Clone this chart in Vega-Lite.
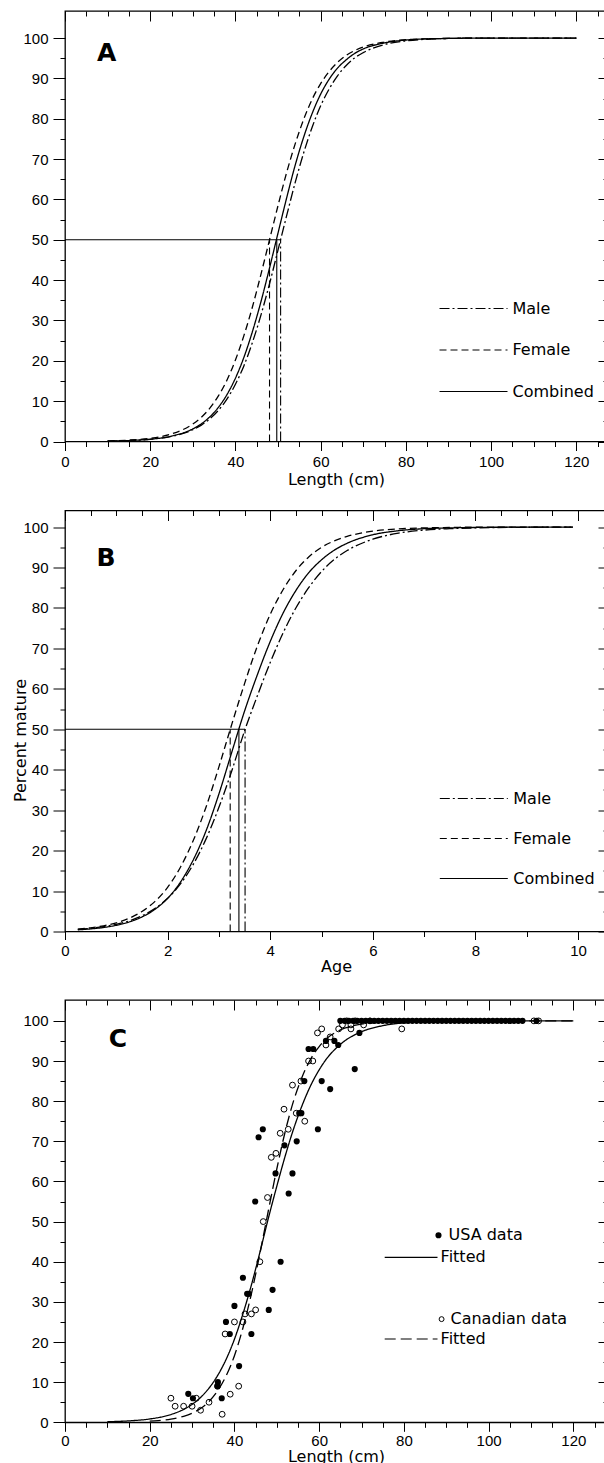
{
  "$schema": "https://vega.github.io/schema/vega-lite/v6.json",
  "background": "white",
  "padding": {"top": 9, "left": 11, "right": 0, "bottom": 0},
  "bounds": "flush",
  "spacing": 68.5,
  "resolve": {"scale": {"strokeDash": "independent"}, "legend": {"strokeDash": "independent"}},
  "config": {
    "view": {"stroke": "black", "strokeWidth": 1.3},
    "axis": {
      "domain": false,
      "grid": false,
      "tickColor": "black",
      "tickWidth": 1,
      "labelColor": "black",
      "labelFont": "Liberation Sans",
      "labelFontSize": 15,
      "labelFlush": false,
      "labelOverlap": false,
      "titleColor": "black",
      "titleFont": "DejaVu Sans",
      "titleFontSize": 16,
      "titleFontWeight": "normal"
    },
    "legend": {
      "orient": "none",
      "title": null,
      "padding": 0,
      "symbolType": "stroke",
      "symbolStrokeColor": "black",
      "symbolStrokeWidth": 1.2,
      "labelFont": "DejaVu Sans",
      "labelFontSize": 16,
      "labelColor": "black"
    },
    "text": {"font": "DejaVu Sans", "fontSize": 16, "color": "black"}
  },
  "datasets": {
    "lengthCurves": [
      {"sex": "Combined", "length": 10, "pct": 0.1}, {"sex": "Combined", "length": 15, "pct": 0.23}, {"sex": "Combined", "length": 20, "pct": 0.56}, {"sex": "Combined", "length": 25, "pct": 1.33},
      {"sex": "Combined", "length": 30, "pct": 3.13}, {"sex": "Combined", "length": 32, "pct": 4.39}, {"sex": "Combined", "length": 34, "pct": 6.12}, {"sex": "Combined", "length": 36, "pct": 8.47},
      {"sex": "Combined", "length": 38, "pct": 11.6}, {"sex": "Combined", "length": 40, "pct": 15.7}, {"sex": "Combined", "length": 42, "pct": 20.9}, {"sex": "Combined", "length": 44, "pct": 27.3},
      {"sex": "Combined", "length": 46, "pct": 34.7}, {"sex": "Combined", "length": 48, "pct": 43.0}, {"sex": "Combined", "length": 50, "pct": 51.7}, {"sex": "Combined", "length": 52, "pct": 60.3},
      {"sex": "Combined", "length": 54, "pct": 68.4}, {"sex": "Combined", "length": 56, "pct": 75.4}, {"sex": "Combined", "length": 58, "pct": 81.3}, {"sex": "Combined", "length": 60, "pct": 86.1},
      {"sex": "Combined", "length": 62, "pct": 89.8}, {"sex": "Combined", "length": 64, "pct": 92.6}, {"sex": "Combined", "length": 66, "pct": 94.6}, {"sex": "Combined", "length": 68, "pct": 96.2},
      {"sex": "Combined", "length": 70, "pct": 97.3}, {"sex": "Combined", "length": 75, "pct": 98.8}, {"sex": "Combined", "length": 80, "pct": 99.5}, {"sex": "Combined", "length": 85, "pct": 99.8},
      {"sex": "Combined", "length": 90, "pct": 99.9}, {"sex": "Combined", "length": 100, "pct": 100}, {"sex": "Combined", "length": 110, "pct": 100}, {"sex": "Combined", "length": 120, "pct": 100},
      {"sex": "Female", "length": 10, "pct": 0.15}, {"sex": "Female", "length": 15, "pct": 0.34}, {"sex": "Female", "length": 20, "pct": 0.8}, {"sex": "Female", "length": 25, "pct": 1.88},
      {"sex": "Female", "length": 30, "pct": 4.33}, {"sex": "Female", "length": 32, "pct": 6.0}, {"sex": "Female", "length": 34, "pct": 8.26}, {"sex": "Female", "length": 36, "pct": 11.3},
      {"sex": "Female", "length": 38, "pct": 15.2}, {"sex": "Female", "length": 40, "pct": 20.2}, {"sex": "Female", "length": 42, "pct": 26.3}, {"sex": "Female", "length": 44, "pct": 33.4},
      {"sex": "Female", "length": 46, "pct": 41.5}, {"sex": "Female", "length": 48, "pct": 50.0}, {"sex": "Female", "length": 50, "pct": 58.5}, {"sex": "Female", "length": 52, "pct": 66.6},
      {"sex": "Female", "length": 54, "pct": 73.7}, {"sex": "Female", "length": 56, "pct": 79.8}, {"sex": "Female", "length": 58, "pct": 84.8}, {"sex": "Female", "length": 60, "pct": 88.7},
      {"sex": "Female", "length": 62, "pct": 91.7}, {"sex": "Female", "length": 64, "pct": 94.0}, {"sex": "Female", "length": 66, "pct": 95.7}, {"sex": "Female", "length": 68, "pct": 96.9},
      {"sex": "Female", "length": 70, "pct": 97.8}, {"sex": "Female", "length": 75, "pct": 99.0}, {"sex": "Female", "length": 80, "pct": 99.6}, {"sex": "Female", "length": 85, "pct": 99.8},
      {"sex": "Female", "length": 90, "pct": 99.9}, {"sex": "Female", "length": 100, "pct": 100}, {"sex": "Female", "length": 110, "pct": 100}, {"sex": "Female", "length": 120, "pct": 100},
      {"sex": "Male", "length": 10, "pct": 0.1}, {"sex": "Male", "length": 15, "pct": 0.24}, {"sex": "Male", "length": 20, "pct": 0.55}, {"sex": "Male", "length": 25, "pct": 1.27},
      {"sex": "Male", "length": 30, "pct": 2.92}, {"sex": "Male", "length": 32, "pct": 4.06}, {"sex": "Male", "length": 34, "pct": 5.62}, {"sex": "Male", "length": 36, "pct": 7.71},
      {"sex": "Male", "length": 38, "pct": 10.5}, {"sex": "Male", "length": 40, "pct": 14.2}, {"sex": "Male", "length": 42, "pct": 18.8}, {"sex": "Male", "length": 44, "pct": 24.6},
      {"sex": "Male", "length": 46, "pct": 31.4}, {"sex": "Male", "length": 48, "pct": 39.1}, {"sex": "Male", "length": 50, "pct": 47.5}, {"sex": "Male", "length": 52, "pct": 55.9},
      {"sex": "Male", "length": 54, "pct": 64.1}, {"sex": "Male", "length": 56, "pct": 71.5}, {"sex": "Male", "length": 58, "pct": 77.9}, {"sex": "Male", "length": 60, "pct": 83.2},
      {"sex": "Male", "length": 62, "pct": 87.4}, {"sex": "Male", "length": 64, "pct": 90.7}, {"sex": "Male", "length": 66, "pct": 93.2}, {"sex": "Male", "length": 68, "pct": 95.1},
      {"sex": "Male", "length": 70, "pct": 96.4}, {"sex": "Male", "length": 75, "pct": 98.4}, {"sex": "Male", "length": 80, "pct": 99.3}, {"sex": "Male", "length": 85, "pct": 99.7},
      {"sex": "Male", "length": 90, "pct": 99.9}, {"sex": "Male", "length": 100, "pct": 100}, {"sex": "Male", "length": 110, "pct": 100}, {"sex": "Male", "length": 120, "pct": 100}
    ],
    "lengthDrops": [
      {"sex": "Combined", "seg": "h", "length": 0, "pct": 50}, {"sex": "Combined", "seg": "h", "length": 50.6, "pct": 50},
      {"sex": "Female", "seg": "f", "length": 48.0, "pct": 0}, {"sex": "Female", "seg": "f", "length": 48.0, "pct": 50},
      {"sex": "Combined", "seg": "c", "length": 49.7, "pct": 0}, {"sex": "Combined", "seg": "c", "length": 49.7, "pct": 50},
      {"sex": "Male", "seg": "m", "length": 50.6, "pct": 0}, {"sex": "Male", "seg": "m", "length": 50.6, "pct": 50}
    ],
    "ageCurves": [
      {"sex": "Combined", "age": 0.25, "pct": 0.42}, {"sex": "Combined", "age": 0.5, "pct": 0.64}, {"sex": "Combined", "age": 0.75, "pct": 0.99}, {"sex": "Combined", "age": 1, "pct": 1.53},
      {"sex": "Combined", "age": 1.25, "pct": 2.35}, {"sex": "Combined", "age": 1.5, "pct": 3.59}, {"sex": "Combined", "age": 1.75, "pct": 5.46}, {"sex": "Combined", "age": 2, "pct": 8.2},
      {"sex": "Combined", "age": 2.25, "pct": 12.2}, {"sex": "Combined", "age": 2.5, "pct": 17.7}, {"sex": "Combined", "age": 2.75, "pct": 24.9}, {"sex": "Combined", "age": 3, "pct": 34.0},
      {"sex": "Combined", "age": 3.25, "pct": 44.3}, {"sex": "Combined", "age": 3.5, "pct": 54.5}, {"sex": "Combined", "age": 3.75, "pct": 63.5}, {"sex": "Combined", "age": 4, "pct": 71.7},
      {"sex": "Combined", "age": 4.25, "pct": 78.7}, {"sex": "Combined", "age": 4.5, "pct": 84.3}, {"sex": "Combined", "age": 4.75, "pct": 88.7}, {"sex": "Combined", "age": 5, "pct": 91.9},
      {"sex": "Combined", "age": 5.25, "pct": 94.3}, {"sex": "Combined", "age": 5.5, "pct": 96.0}, {"sex": "Combined", "age": 6, "pct": 98.1}, {"sex": "Combined", "age": 6.5, "pct": 99.1},
      {"sex": "Combined", "age": 7, "pct": 99.6}, {"sex": "Combined", "age": 7.5, "pct": 99.8}, {"sex": "Combined", "age": 8, "pct": 99.9}, {"sex": "Combined", "age": 9, "pct": 100}, {"sex": "Combined", "age": 9.9, "pct": 100},
      {"sex": "Female", "age": 0.25, "pct": 0.6}, {"sex": "Female", "age": 0.5, "pct": 0.92}, {"sex": "Female", "age": 0.75, "pct": 1.41}, {"sex": "Female", "age": 1, "pct": 2.15},
      {"sex": "Female", "age": 1.25, "pct": 3.27}, {"sex": "Female", "age": 1.5, "pct": 4.94}, {"sex": "Female", "age": 1.75, "pct": 7.39}, {"sex": "Female", "age": 2, "pct": 10.9},
      {"sex": "Female", "age": 2.25, "pct": 15.9}, {"sex": "Female", "age": 2.5, "pct": 22.5}, {"sex": "Female", "age": 2.75, "pct": 30.8}, {"sex": "Female", "age": 3, "pct": 40.7},
      {"sex": "Female", "age": 3.25, "pct": 51.2}, {"sex": "Female", "age": 3.5, "pct": 61.3}, {"sex": "Female", "age": 3.75, "pct": 70.6}, {"sex": "Female", "age": 4, "pct": 78.4},
      {"sex": "Female", "age": 4.25, "pct": 84.5}, {"sex": "Female", "age": 4.5, "pct": 89.2}, {"sex": "Female", "age": 4.75, "pct": 92.6}, {"sex": "Female", "age": 5, "pct": 95.0},
      {"sex": "Female", "age": 5.25, "pct": 96.6}, {"sex": "Female", "age": 5.5, "pct": 97.7}, {"sex": "Female", "age": 6, "pct": 99.0}, {"sex": "Female", "age": 6.5, "pct": 99.55},
      {"sex": "Female", "age": 7, "pct": 99.8}, {"sex": "Female", "age": 7.5, "pct": 99.9}, {"sex": "Female", "age": 8, "pct": 100}, {"sex": "Female", "age": 9, "pct": 100}, {"sex": "Female", "age": 9.9, "pct": 100},
      {"sex": "Male", "age": 0.25, "pct": 0.54}, {"sex": "Male", "age": 0.5, "pct": 0.8}, {"sex": "Male", "age": 0.75, "pct": 1.19}, {"sex": "Male", "age": 1, "pct": 1.77},
      {"sex": "Male", "age": 1.25, "pct": 2.62}, {"sex": "Male", "age": 1.5, "pct": 3.86}, {"sex": "Male", "age": 1.75, "pct": 5.65}, {"sex": "Male", "age": 2, "pct": 8.2},
      {"sex": "Male", "age": 2.25, "pct": 11.75}, {"sex": "Male", "age": 2.5, "pct": 16.6}, {"sex": "Male", "age": 2.75, "pct": 22.9}, {"sex": "Male", "age": 3, "pct": 30.7},
      {"sex": "Male", "age": 3.25, "pct": 39.7}, {"sex": "Male", "age": 3.5, "pct": 49.6}, {"sex": "Male", "age": 3.75, "pct": 58.3}, {"sex": "Male", "age": 4, "pct": 66.5},
      {"sex": "Male", "age": 4.25, "pct": 73.8}, {"sex": "Male", "age": 4.5, "pct": 80.0}, {"sex": "Male", "age": 4.75, "pct": 85.0}, {"sex": "Male", "age": 5, "pct": 89.0},
      {"sex": "Male", "age": 5.25, "pct": 92.0}, {"sex": "Male", "age": 5.5, "pct": 94.2}, {"sex": "Male", "age": 6, "pct": 97.0}, {"sex": "Male", "age": 6.5, "pct": 98.5},
      {"sex": "Male", "age": 7, "pct": 99.25}, {"sex": "Male", "age": 7.5, "pct": 99.6}, {"sex": "Male", "age": 8, "pct": 99.8}, {"sex": "Male", "age": 9, "pct": 99.95}, {"sex": "Male", "age": 9.9, "pct": 100}
    ],
    "ageDrops": [
      {"sex": "Combined", "seg": "h", "age": 0, "pct": 50}, {"sex": "Combined", "seg": "h", "age": 3.51, "pct": 50},
      {"sex": "Female", "seg": "f", "age": 3.22, "pct": 0}, {"sex": "Female", "seg": "f", "age": 3.22, "pct": 50},
      {"sex": "Combined", "seg": "c", "age": 3.39, "pct": 0}, {"sex": "Combined", "seg": "c", "age": 3.39, "pct": 50},
      {"sex": "Male", "seg": "m", "age": 3.51, "pct": 0}, {"sex": "Male", "seg": "m", "age": 3.51, "pct": 50}
    ],
    "fitted": [
      {"src": "USA", "length": 10, "pct": 0.15}, {"src": "USA", "length": 15, "pct": 0.35}, {"src": "USA", "length": 20, "pct": 0.83}, {"src": "USA", "length": 25, "pct": 1.94},
      {"src": "USA", "length": 28, "pct": 3.21}, {"src": "USA", "length": 30, "pct": 4.47}, {"src": "USA", "length": 32, "pct": 6.19}, {"src": "USA", "length": 34, "pct": 8.52},
      {"src": "USA", "length": 36, "pct": 11.6}, {"src": "USA", "length": 38, "pct": 15.6}, {"src": "USA", "length": 40, "pct": 20.7}, {"src": "USA", "length": 42, "pct": 27.0},
      {"src": "USA", "length": 44, "pct": 34.2}, {"src": "USA", "length": 46, "pct": 42.3}, {"src": "USA", "length": 48, "pct": 50.8}, {"src": "USA", "length": 50, "pct": 58.8},
      {"src": "USA", "length": 52, "pct": 66.4}, {"src": "USA", "length": 54, "pct": 73.2}, {"src": "USA", "length": 56, "pct": 79.0}, {"src": "USA", "length": 58, "pct": 83.9},
      {"src": "USA", "length": 60, "pct": 87.8}, {"src": "USA", "length": 62, "pct": 90.9}, {"src": "USA", "length": 64, "pct": 93.2}, {"src": "USA", "length": 66, "pct": 95.0},
      {"src": "USA", "length": 68, "pct": 96.3}, {"src": "USA", "length": 70, "pct": 97.3}, {"src": "USA", "length": 75, "pct": 98.8}, {"src": "USA", "length": 80, "pct": 99.5},
      {"src": "USA", "length": 90, "pct": 99.9}, {"src": "USA", "length": 100, "pct": 100}, {"src": "USA", "length": 110, "pct": 100}, {"src": "USA", "length": 120, "pct": 100},
      {"src": "Canadian", "length": 20, "pct": 0.27}, {"src": "Canadian", "length": 22, "pct": 0.41}, {"src": "Canadian", "length": 25, "pct": 0.79}, {"src": "Canadian", "length": 28, "pct": 1.49},
      {"src": "Canadian", "length": 30, "pct": 2.27}, {"src": "Canadian", "length": 32, "pct": 3.45}, {"src": "Canadian", "length": 34, "pct": 5.2}, {"src": "Canadian", "length": 36, "pct": 7.8},
      {"src": "Canadian", "length": 38, "pct": 11.5}, {"src": "Canadian", "length": 40, "pct": 16.6}, {"src": "Canadian", "length": 42, "pct": 23.5}, {"src": "Canadian", "length": 44, "pct": 32.0},
      {"src": "Canadian", "length": 46, "pct": 42.0}, {"src": "Canadian", "length": 48, "pct": 52.7}, {"src": "Canadian", "length": 50, "pct": 63.1}, {"src": "Canadian", "length": 52, "pct": 72.5},
      {"src": "Canadian", "length": 54, "pct": 80.2}, {"src": "Canadian", "length": 56, "pct": 86.1}, {"src": "Canadian", "length": 58, "pct": 90.5}, {"src": "Canadian", "length": 60, "pct": 93.6},
      {"src": "Canadian", "length": 62, "pct": 95.8}, {"src": "Canadian", "length": 64, "pct": 97.2}, {"src": "Canadian", "length": 66, "pct": 98.2}, {"src": "Canadian", "length": 68, "pct": 98.8},
      {"src": "Canadian", "length": 70, "pct": 99.2}, {"src": "Canadian", "length": 75, "pct": 99.7}, {"src": "Canadian", "length": 80, "pct": 99.9}, {"src": "Canadian", "length": 90, "pct": 100},
      {"src": "Canadian", "length": 100, "pct": 100}, {"src": "Canadian", "length": 110, "pct": 100}, {"src": "Canadian", "length": 120, "pct": 100}
    ],
    "observed": [
      {"src": "USA", "length": 29.1, "pct": 7.1}, {"src": "USA", "length": 30.2, "pct": 6.0}, {"src": "USA", "length": 36.0, "pct": 9.0}, {"src": "USA", "length": 36.1, "pct": 10.0},
      {"src": "USA", "length": 37.0, "pct": 6.0}, {"src": "USA", "length": 38.0, "pct": 25.0}, {"src": "USA", "length": 38.9, "pct": 22.0}, {"src": "USA", "length": 40.0, "pct": 29.0},
      {"src": "USA", "length": 41.1, "pct": 14.0}, {"src": "USA", "length": 42.0, "pct": 36.0}, {"src": "USA", "length": 43.0, "pct": 32.0}, {"src": "USA", "length": 43.4, "pct": 32.0},
      {"src": "USA", "length": 44.0, "pct": 22.0}, {"src": "USA", "length": 44.9, "pct": 55.0}, {"src": "USA", "length": 45.7, "pct": 71.0}, {"src": "USA", "length": 46.7, "pct": 73.0},
      {"src": "USA", "length": 48.1, "pct": 28.0}, {"src": "USA", "length": 49.0, "pct": 33.0}, {"src": "USA", "length": 49.7, "pct": 62.0}, {"src": "USA", "length": 50.9, "pct": 40.0},
      {"src": "USA", "length": 51.8, "pct": 69.0}, {"src": "USA", "length": 52.8, "pct": 57.0}, {"src": "USA", "length": 53.7, "pct": 62.0}, {"src": "USA", "length": 54.7, "pct": 70.0},
      {"src": "USA", "length": 55.3, "pct": 77.0}, {"src": "USA", "length": 55.8, "pct": 77.0}, {"src": "USA", "length": 56.5, "pct": 85.0}, {"src": "USA", "length": 57.5, "pct": 93.0},
      {"src": "USA", "length": 58.6, "pct": 93.0}, {"src": "USA", "length": 59.7, "pct": 73.0}, {"src": "USA", "length": 60.6, "pct": 85.0}, {"src": "USA", "length": 61.6, "pct": 95.0},
      {"src": "USA", "length": 62.6, "pct": 83.0}, {"src": "USA", "length": 63.6, "pct": 95.0}, {"src": "USA", "length": 64.5, "pct": 94.0}, {"src": "USA", "length": 68.4, "pct": 88.0},
      {"src": "USA", "length": 69.5, "pct": 97.0},
      {"src": "USA", "length": 65, "pct": 100}, {"src": "USA", "length": 66, "pct": 100}, {"src": "USA", "length": 67, "pct": 100}, {"src": "USA", "length": 68, "pct": 100},
      {"src": "USA", "length": 69, "pct": 100}, {"src": "USA", "length": 70, "pct": 100}, {"src": "USA", "length": 71, "pct": 100}, {"src": "USA", "length": 72, "pct": 100},
      {"src": "USA", "length": 73, "pct": 100}, {"src": "USA", "length": 74, "pct": 100}, {"src": "USA", "length": 75, "pct": 100}, {"src": "USA", "length": 76, "pct": 100},
      {"src": "USA", "length": 77, "pct": 100}, {"src": "USA", "length": 78, "pct": 100}, {"src": "USA", "length": 79, "pct": 100}, {"src": "USA", "length": 80, "pct": 100},
      {"src": "USA", "length": 81, "pct": 100}, {"src": "USA", "length": 82, "pct": 100}, {"src": "USA", "length": 83, "pct": 100}, {"src": "USA", "length": 84, "pct": 100},
      {"src": "USA", "length": 85, "pct": 100}, {"src": "USA", "length": 86, "pct": 100}, {"src": "USA", "length": 87, "pct": 100}, {"src": "USA", "length": 88, "pct": 100},
      {"src": "USA", "length": 89, "pct": 100}, {"src": "USA", "length": 90, "pct": 100}, {"src": "USA", "length": 91, "pct": 100}, {"src": "USA", "length": 92, "pct": 100},
      {"src": "USA", "length": 93, "pct": 100}, {"src": "USA", "length": 94, "pct": 100}, {"src": "USA", "length": 95, "pct": 100}, {"src": "USA", "length": 96, "pct": 100},
      {"src": "USA", "length": 97, "pct": 100}, {"src": "USA", "length": 98, "pct": 100}, {"src": "USA", "length": 99, "pct": 100}, {"src": "USA", "length": 100, "pct": 100},
      {"src": "USA", "length": 101, "pct": 100}, {"src": "USA", "length": 102, "pct": 100}, {"src": "USA", "length": 103, "pct": 100}, {"src": "USA", "length": 104, "pct": 100},
      {"src": "USA", "length": 105, "pct": 100}, {"src": "USA", "length": 106, "pct": 100}, {"src": "USA", "length": 107, "pct": 100}, {"src": "USA", "length": 108, "pct": 100},
      {"src": "USA", "length": 111.3, "pct": 100},
      {"src": "Canadian", "length": 25, "pct": 6}, {"src": "Canadian", "length": 26, "pct": 4}, {"src": "Canadian", "length": 28, "pct": 4}, {"src": "Canadian", "length": 30, "pct": 4},
      {"src": "Canadian", "length": 31, "pct": 6}, {"src": "Canadian", "length": 32, "pct": 3}, {"src": "Canadian", "length": 34, "pct": 5}, {"src": "Canadian", "length": 36, "pct": 9},
      {"src": "Canadian", "length": 37.1, "pct": 2}, {"src": "Canadian", "length": 37.8, "pct": 22}, {"src": "Canadian", "length": 39, "pct": 7}, {"src": "Canadian", "length": 40, "pct": 25},
      {"src": "Canadian", "length": 41, "pct": 9}, {"src": "Canadian", "length": 42, "pct": 25}, {"src": "Canadian", "length": 42.5, "pct": 27}, {"src": "Canadian", "length": 44, "pct": 27},
      {"src": "Canadian", "length": 45, "pct": 28}, {"src": "Canadian", "length": 46, "pct": 40}, {"src": "Canadian", "length": 46.8, "pct": 50}, {"src": "Canadian", "length": 47.8, "pct": 56},
      {"src": "Canadian", "length": 48.7, "pct": 66}, {"src": "Canadian", "length": 49.8, "pct": 67}, {"src": "Canadian", "length": 50.8, "pct": 72}, {"src": "Canadian", "length": 51.7, "pct": 78},
      {"src": "Canadian", "length": 52.7, "pct": 73}, {"src": "Canadian", "length": 53.7, "pct": 84}, {"src": "Canadian", "length": 54.6, "pct": 77}, {"src": "Canadian", "length": 55.7, "pct": 85},
      {"src": "Canadian", "length": 56.6, "pct": 75}, {"src": "Canadian", "length": 57.5, "pct": 90}, {"src": "Canadian", "length": 58.5, "pct": 90}, {"src": "Canadian", "length": 59.6, "pct": 97},
      {"src": "Canadian", "length": 60.6, "pct": 98}, {"src": "Canadian", "length": 61.6, "pct": 94}, {"src": "Canadian", "length": 62.6, "pct": 96}, {"src": "Canadian", "length": 64.6, "pct": 98},
      {"src": "Canadian", "length": 65.5, "pct": 99}, {"src": "Canadian", "length": 66.5, "pct": 100}, {"src": "Canadian", "length": 67.5, "pct": 99}, {"src": "Canadian", "length": 67.5, "pct": 98},
      {"src": "Canadian", "length": 68.5, "pct": 100}, {"src": "Canadian", "length": 70.5, "pct": 99}, {"src": "Canadian", "length": 72, "pct": 100}, {"src": "Canadian", "length": 79.5, "pct": 98},
      {"src": "Canadian", "length": 110.7, "pct": 100}, {"src": "Canadian", "length": 111.8, "pct": 100}
    ]
  },
  "vconcat": [
    {
      "width": 542,
      "height": 430.5,
      "resolve": {"axis": {"x": "independent", "y": "independent"}},
      "layer": [
        {
          "data": {"name": "lengthCurves"},
          "mark": {"type": "line", "color": "black", "strokeWidth": 1.3, "interpolate": "monotone"},
          "encoding": {
            "x": {
              "field": "length", "type": "quantitative",
              "scale": {"domain": [0, 127.2], "nice": false},
              "axis": {
                "orient": "bottom",
                "values": [0, 5, 10, 15, 20, 25, 30, 35, 40, 45, 50, 55, 60, 65, 70, 75, 80, 85, 90, 95, 100, 105, 110, 115, 120, 125],
                "labelExpr": "datum.value % 20 === 0 ? datum.label : ''",
                "tickSize": {"condition": {"test": "datum.value % 20 === 0", "value": 9}, "value": 5},
                "labelPadding": 4,
                "title": "Length (cm)",
                "titlePadding": 2
              }
            },
            "y": {
              "field": "pct", "type": "quantitative",
              "scale": {"domain": [0, 106.7], "nice": false},
              "axis": {
                "orient": "left",
                "values": [0, 5, 10, 15, 20, 25, 30, 35, 40, 45, 50, 55, 60, 65, 70, 75, 80, 85, 90, 95, 100],
                "labelExpr": "datum.value % 10 === 0 ? datum.label : ''",
                "tickSize": {"condition": {"test": "datum.value % 10 === 0", "value": 12}, "value": 5},
                "labelPadding": 5,
                "title": null
              }
            },
            "strokeDash": {
              "field": "sex", "type": "nominal",
              "scale": {"domain": ["Male", "Female", "Combined"], "range": [[10, 3, 2, 3], [7, 4], [1, 0]]},
              "legend": {"legendX": 373.5, "legendY": 278, "symbolSize": 4624, "clipHeight": 39, "rowPadding": 2.5, "labelOffset": 4}
            }
          }
        },
        {
          "data": {"name": "lengthDrops"},
          "mark": {"type": "line", "color": "black", "strokeWidth": 1.1},
          "encoding": {
            "x": {
              "field": "length", "type": "quantitative",
              "axis": {
                "orient": "top",
                "values": [0, 5, 10, 15, 20, 25, 30, 35, 40, 45, 50, 55, 60, 65, 70, 75, 80, 85, 90, 95, 100, 105, 110, 115, 120, 125],
                "labels": false,
                "tickSize": {"condition": {"test": "datum.value % 20 === 0", "value": -10}, "value": -5},
                "title": null
              }
            },
            "y": {
              "field": "pct", "type": "quantitative",
              "axis": {
                "orient": "right",
                "values": [0, 5, 10, 15, 20, 25, 30, 35, 40, 45, 50, 55, 60, 65, 70, 75, 80, 85, 90, 95, 100],
                "labels": false,
                "tickSize": {"condition": {"test": "datum.value % 10 === 0", "value": -9}, "value": -4},
                "title": null
              }
            },
            "detail": {"field": "seg", "type": "nominal"},
            "order": {"field": "pct", "type": "quantitative"},
            "strokeDash": {"field": "sex", "type": "nominal"}
          }
        },
        {
          "data": {"values": [{}]},
          "mark": {"type": "text", "text": "A", "fontSize": 25, "fontWeight": "bold", "align": "center", "baseline": "alphabetic"},
          "encoding": {"x": {"datum": 9.8, "type": "quantitative", "axis": null}, "y": {"datum": 94.2, "type": "quantitative", "axis": null}}
        }
      ]
    },
    {
      "width": 542,
      "height": 421,
      "resolve": {"axis": {"x": "independent", "y": "independent"}},
      "layer": [
        {
          "data": {"name": "ageCurves"},
          "mark": {"type": "line", "color": "black", "strokeWidth": 1.3, "interpolate": "monotone"},
          "encoding": {
            "x": {
              "field": "age", "type": "quantitative",
              "scale": {"domain": [0, 10.565], "nice": false},
              "axis": {
                "orient": "bottom",
                "format": "d",
                "values": [0, 0.5, 1, 1.5, 2, 2.5, 3, 3.5, 4, 4.5, 5, 5.5, 6, 6.5, 7, 7.5, 8, 8.5, 9, 9.5, 10, 10.5],
                "labelExpr": "datum.value % 2 === 0 ? datum.label : ''",
                "tickSize": {"condition": {"test": "datum.value % 2 === 0", "value": 8}, "value": 5},
                "labelPadding": 4,
                "title": "Age",
                "titlePadding": 0
              }
            },
            "y": {
              "field": "pct", "type": "quantitative",
              "scale": {"domain": [0, 104.1], "nice": false},
              "axis": {
                "orient": "left",
                "values": [0, 5, 10, 15, 20, 25, 30, 35, 40, 45, 50, 55, 60, 65, 70, 75, 80, 85, 90, 95, 100],
                "labelExpr": "datum.value % 10 === 0 ? datum.label : ''",
                "tickSize": {"condition": {"test": "datum.value % 10 === 0", "value": 12}, "value": 5},
                "labelPadding": 5,
                "title": "Percent mature",
                "titleX": -37,
                "titleY": 229.5,
                "titleAngle": 270,
                "titleAlign": "center",
                "titleBaseline": "bottom"
              }
            },
            "strokeDash": {
              "field": "sex", "type": "nominal",
              "scale": {"domain": ["Male", "Female", "Combined"], "range": [[10, 3, 2, 3], [7, 4], [1, 0]]},
              "legend": {"legendX": 373.8, "legendY": 268.5, "symbolSize": 4624, "clipHeight": 39, "rowPadding": 1, "labelOffset": 4.5}
            }
          }
        },
        {
          "data": {"name": "ageDrops"},
          "mark": {"type": "line", "color": "black", "strokeWidth": 1.1},
          "encoding": {
            "x": {
              "field": "age", "type": "quantitative",
              "axis": {
                "orient": "top",
                "values": [0, 0.5, 1, 1.5, 2, 2.5, 3, 3.5, 4, 4.5, 5, 5.5, 6, 6.5, 7, 7.5, 8, 8.5, 9, 9.5, 10, 10.5],
                "labels": false,
                "tickSize": {"condition": {"test": "datum.value % 2 === 0", "value": -10}, "value": -5},
                "title": null
              }
            },
            "y": {
              "field": "pct", "type": "quantitative",
              "axis": {
                "orient": "right",
                "values": [0, 5, 10, 15, 20, 25, 30, 35, 40, 45, 50, 55, 60, 65, 70, 75, 80, 85, 90, 95, 100],
                "labels": false,
                "tickSize": {"condition": {"test": "datum.value % 10 === 0", "value": -9}, "value": -4},
                "title": null
              }
            },
            "detail": {"field": "seg", "type": "nominal"},
            "order": {"field": "pct", "type": "quantitative"},
            "strokeDash": {"field": "sex", "type": "nominal"}
          }
        },
        {
          "data": {"values": [{}]},
          "mark": {"type": "text", "text": "B", "fontSize": 25, "fontWeight": "bold", "align": "center", "baseline": "alphabetic"},
          "encoding": {"x": {"datum": 0.8, "type": "quantitative", "axis": null}, "y": {"datum": 90.5, "type": "quantitative", "axis": null}}
        }
      ]
    },
    {
      "width": 542,
      "height": 422.3,
      "resolve": {"axis": {"x": "independent", "y": "independent"}},
      "layer": [
        {
          "data": {"name": "fitted"},
          "mark": {"type": "line", "color": "black", "strokeWidth": 1.3, "interpolate": "monotone"},
          "encoding": {
            "x": {
              "field": "length", "type": "quantitative",
              "scale": {"domain": [0, 127.95], "nice": false},
              "axis": {
                "orient": "bottom",
                "values": [0, 5, 10, 15, 20, 25, 30, 35, 40, 45, 50, 55, 60, 65, 70, 75, 80, 85, 90, 95, 100, 105, 110, 115, 120, 125],
                "labelExpr": "datum.value % 20 === 0 ? datum.label : ''",
                "tickSize": {"condition": {"test": "datum.value % 20 === 0", "value": 9}, "value": 5},
                "labelPadding": 2,
                "title": "Length (cm)",
                "titlePadding": 0
              }
            },
            "y": {
              "field": "pct", "type": "quantitative",
              "scale": {"domain": [0, 105.2], "nice": false},
              "axis": {
                "orient": "left",
                "values": [0, 5, 10, 15, 20, 25, 30, 35, 40, 45, 50, 55, 60, 65, 70, 75, 80, 85, 90, 95, 100],
                "labelExpr": "datum.value % 10 === 0 ? datum.label : ''",
                "tickSize": {"condition": {"test": "datum.value % 10 === 0", "value": 12}, "value": 5},
                "labelPadding": 5,
                "title": null
              }
            },
            "strokeDash": {
              "field": "src", "type": "nominal",
              "scale": {"domain": ["USA", "Canadian"], "range": [[1, 0], [11, 5]]},
              "legend": {"legendX": 318.6, "legendY": 247.3, "symbolSize": 2788, "clipHeight": 20, "rowPadding": 61.7, "labelOffset": 2, "labelExpr": "'Fitted'"}
            }
          }
        },
        {
          "data": {"name": "observed"},
          "transform": [{"filter": "datum.src === 'USA'"}],
          "mark": {"type": "circle", "color": "black", "size": 38, "opacity": 1},
          "encoding": {
            "x": {"field": "length", "type": "quantitative", "axis": null},
            "y": {"field": "pct", "type": "quantitative", "axis": null}
          }
        },
        {
          "data": {"name": "observed"},
          "transform": [{"filter": "datum.src === 'Canadian'"}],
          "mark": {"type": "point", "shape": "circle", "filled": false, "color": "black", "size": 34, "strokeWidth": 1, "opacity": 1},
          "encoding": {
            "x": {
              "field": "length", "type": "quantitative",
              "axis": {
                "orient": "top",
                "values": [0, 5, 10, 15, 20, 25, 30, 35, 40, 45, 50, 55, 60, 65, 70, 75, 80, 85, 90, 95, 100, 105, 110, 115, 120, 125],
                "labels": false,
                "tickSize": {"condition": {"test": "datum.value % 20 === 0", "value": -10}, "value": -5},
                "title": null
              }
            },
            "y": {
              "field": "pct", "type": "quantitative",
              "axis": {
                "orient": "right",
                "values": [0, 5, 10, 15, 20, 25, 30, 35, 40, 45, 50, 55, 60, 65, 70, 75, 80, 85, 90, 95, 100],
                "labels": false,
                "tickSize": {"condition": {"test": "datum.value % 10 === 0", "value": -9}, "value": -4},
                "title": null
              }
            }
          }
        },
        {
          "data": {"values": [{}]},
          "mark": {"type": "text", "text": "C", "fontSize": 25, "fontWeight": "bold", "align": "center", "baseline": "alphabetic"},
          "encoding": {"x": {"datum": 12.5, "type": "quantitative", "axis": null}, "y": {"datum": 93.4, "type": "quantitative", "axis": null}}
        },
        {
          "data": {"values": [{}]},
          "mark": {"type": "circle", "color": "black", "size": 38, "opacity": 1},
          "encoding": {"x": {"datum": 88.17, "type": "quantitative", "axis": null}, "y": {"datum": 46.6, "type": "quantitative", "axis": null}}
        },
        {
          "data": {"values": [{}]},
          "mark": {"type": "text", "text": "USA data", "align": "left", "baseline": "middle"},
          "encoding": {"x": {"datum": 90.53, "type": "quantitative", "axis": null}, "y": {"datum": 46.6, "type": "quantitative", "axis": null}}
        },
        {
          "data": {"values": [{}]},
          "mark": {"type": "point", "shape": "circle", "filled": false, "color": "black", "size": 24, "strokeWidth": 1, "opacity": 1},
          "encoding": {"x": {"datum": 88.9, "type": "quantitative", "axis": null}, "y": {"datum": 25.7, "type": "quantitative", "axis": null}}
        },
        {
          "data": {"values": [{}]},
          "mark": {"type": "text", "text": "Canadian data", "align": "left", "baseline": "middle"},
          "encoding": {"x": {"datum": 91.0, "type": "quantitative", "axis": null}, "y": {"datum": 25.7, "type": "quantitative", "axis": null}}
        }
      ]
    }
  ]
}
